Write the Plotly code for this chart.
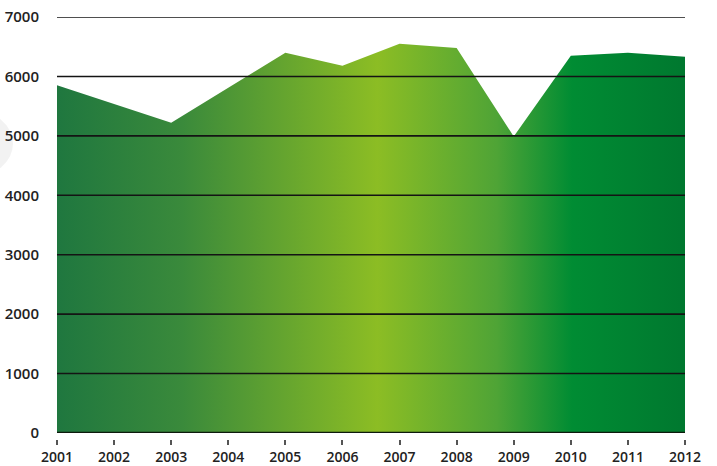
import plotly.graph_objects as go

years = [2001, 2002, 2003, 2004, 2005, 2006, 2007, 2008, 2009, 2010, 2011, 2012]
values = [5850, 5540, 5220, 5810, 6400, 6180, 6550, 6480, 4990, 6350, 6400, 6330]
y_ticks = [0, 1000, 2000, 3000, 4000, 5000, 6000, 7000]

fig = go.Figure()
fig.add_trace(go.Scatter(
    x=years, y=values, mode="lines", fill="tozeroy",
    line=dict(width=0, color="rgba(0,0,0,0)"),
    fillgradient=dict(
        type="horizontal",
        colorscale=[
            [0.0, "#1f773f"],
            [0.2, "#3a8a3b"],
            [0.51, "#8cbd24"],
            [0.7, "#4fa436"],
            [0.82, "#008c33"],
            [1.0, "#00782f"],
        ],
    ),
    hoverinfo="x+y",
    showlegend=False,
))

shapes = []
for v in y_ticks:
    shapes.append(dict(
        type="line", xref="paper", x0=0, x1=1, yref="y", y0=v, y1=v,
        line=dict(color="#141414" if v > 0 else "#0d1a0d", width=1.6 if v > 0 else 2.6),
        layer="above",
    ))
# faint grey round shadow at the left edge
shapes.append(dict(
    type="circle", xref="paper", yref="paper",
    x0=-0.2, x1=-0.07, y0=0.62, y1=0.78,
    fillcolor="rgba(0,0,0,0.05)", line=dict(width=0), layer="below",
))

fig.update_layout(
    width=717, height=466,
    margin=dict(l=57, r=32, t=17, b=27),
    paper_bgcolor="white", plot_bgcolor="white",
    font=dict(family="Open Sans", size=15, color="#222222"),
    shapes=shapes,
    xaxis=dict(
        range=[2001, 2012], tickmode="array", tickvals=years,
        ticktext=[str(y) for y in years],
        showgrid=False, zeroline=False, showline=False, automargin=False,
        ticks="outside", ticklen=5, tickwidth=1.5, tickcolor="#555555",
        anchor="free", position=0,
        tickfont=dict(family="Open Sans", size=14, color="#222222", weight=600),
    ),
    yaxis=dict(
        range=[0, 7000], domain=[6 / 422, 1], tickmode="array", tickvals=y_ticks,
        showgrid=False, zeroline=False, showline=False, automargin=False,
        ticks="outside", ticklen=14, tickcolor="rgba(0,0,0,0)",
        tickfont=dict(family="Open Sans", size=15, color="#222222", weight=600),
    ),
)

fig.write_html("out.html", config={"displayModeBar": False},
               post_script="document.body.style.margin='0px';")
